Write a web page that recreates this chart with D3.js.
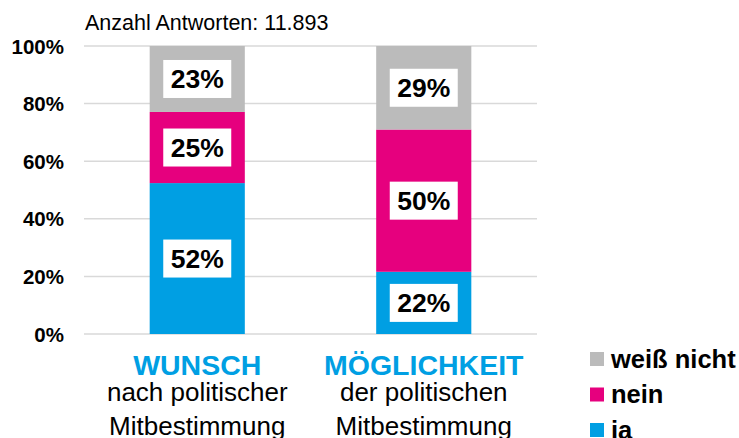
<!DOCTYPE html>
<html>
<head>
<meta charset="utf-8">
<script src="https://cdn.jsdelivr.net/npm/d3@7"></script>
<style>
  body { margin: 0; background: #fff; }
  text { font-family: Arial, "Liberation Sans", sans-serif; }
</style>
</head>
<body>
<div id="chart"></div>
<script>
const categories = ["WUNSCH", "MÖGLICHKEIT"];
const subLines = [["nach politischer", "Mitbestimmung"], ["der politischen", "Mitbestimmung"]];
const seriesNames = ["ja", "nein", "weiß nicht"];
const jaValues = [52.4, 21.6];
const neinValues = [24.7, 49.4];
const weissValues = [22.9, 29.0];
const labelValues = [[52, 25, 23], [22, 50, 29]];
const yTicks = [0, 20, 40, 60, 80, 100];
const colors = ["#009FE3", "#E6007E", "#BBBBBB"];

const W = 739, H = 438;
const svg = d3.select("#chart").append("svg")
    .attr("width", W).attr("height", H);

const x = d3.scaleBand()
    .domain(categories)
    .range([84, 537])
    .paddingInner(0.58)
    .paddingOuter(0.29);

const y = d3.scaleLinear()
    .domain([0, 100])
    .range([334, 46]);

// gridlines
svg.append("g").selectAll("line")
  .data(yTicks)
  .join("line")
    .attr("x1", 84).attr("x2", 537)
    .attr("y1", d => y(d)).attr("y2", d => y(d))
    .attr("stroke", "#d9d9d9")
    .attr("stroke-width", 1.5);

// y axis labels
svg.append("g").selectAll("text")
  .data(yTicks)
  .join("text")
    .attr("x", 64)
    .attr("y", d => y(d) + 7.5)
    .attr("text-anchor", "end")
    .attr("font-size", 20.5)
    .attr("font-weight", "bold")
    .text(d => d + "%");

// stacked data
const rows = categories.map((c, i) => ({cat: c, ja: jaValues[i], nein: neinValues[i], "weiß nicht": weissValues[i]}));
const stack = d3.stack().keys(seriesNames)(rows);

const layers = svg.append("g").selectAll("g")
  .data(stack)
  .join("g")
    .attr("fill", (d, i) => colors[i]);

layers.selectAll("rect")
  .data(d => d)
  .join("rect")
    .attr("x", d => x(d.data.cat))
    .attr("width", x.bandwidth())
    .attr("y", d => y(d[1]))
    .attr("height", d => y(d[0]) - y(d[1]));

// value labels in white boxes
stack.forEach((layer, si) => {
  layer.forEach((d, ci) => {
    const cx = x(d.data.cat) + x.bandwidth() / 2;
    const cy = (y(d[0]) + y(d[1])) / 2;
    svg.append("rect")
      .attr("x", cx - 34).attr("y", cy - 19)
      .attr("width", 68).attr("height", 38)
      .attr("fill", "#fff");
    svg.append("text")
      .attr("x", cx).attr("y", cy + 9.5)
      .attr("text-anchor", "middle")
      .attr("font-size", 26.5)
      .attr("font-weight", "bold")
      .text(labelValues[ci][si] + "%");
  });
});

// title note
svg.append("text")
  .attr("x", 85).attr("y", 30)
  .attr("font-size", 21.5)
  .text("Anzahl Antworten: 11.893");

// category labels
categories.forEach((c, i) => {
  const cx = x(c) + x.bandwidth() / 2;
  svg.append("text")
    .attr("x", cx).attr("y", 375)
    .attr("text-anchor", "middle")
    .attr("font-size", 28.5)
    .attr("font-weight", "bold")
    .attr("fill", "#009FE3")
    .text(c);
  subLines[i].forEach((s, k) => {
    svg.append("text")
      .attr("x", cx).attr("y", 401 + k * 34)
      .attr("text-anchor", "middle")
      .attr("font-size", 26)
      .text(s);
  });
});

// legend
const legendOrder = ["weiß nicht", "nein", "ja"];
legendOrder.forEach((name, i) => {
  const ly = 359 + i * 35.5;
  svg.append("rect")
    .attr("x", 590).attr("y", ly - 7)
    .attr("width", 14).attr("height", 14)
    .attr("fill", colors[seriesNames.indexOf(name)]);
  svg.append("text")
    .attr("x", 611).attr("y", ly + 8.5)
    .attr("font-size", 25.5)
    .attr("font-weight", "bold")
    .text(name);
});
</script>
</body>
</html>
